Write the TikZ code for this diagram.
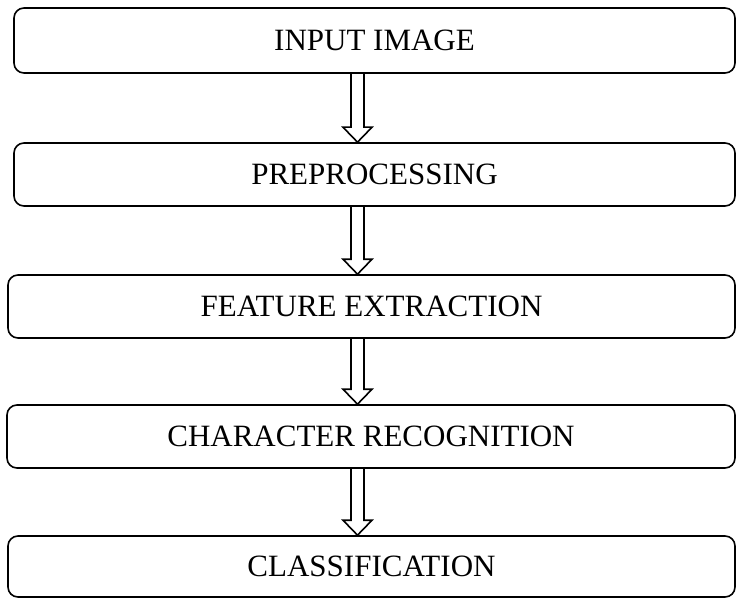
\documentclass[tikz,border=0pt]{standalone}
\usepackage{fontspec}
\setmainfont{Liberation Serif}
\usetikzlibrary{calc}

\begin{document}
\begin{tikzpicture}[
  x=1pt, y=-1pt,
  stage/.style={draw, line width=1.6pt, rounded corners=10pt, inner sep=0pt, font=\fontsize{31}{36}\selectfont},
  hollowarrow/.style={draw, line width=1.6pt, line join=miter}
]
\useasboundingbox (0,0) rectangle (736,599);

\node[stage, minimum width=721pt, minimum height=65pt] (input) at (374.5,40.5) {INPUT IMAGE};
\node[stage, minimum width=721pt, minimum height=63pt] (prep) at (374.5,174.5) {PREPROCESSING};
\node[stage, minimum width=727pt, minimum height=63pt] (feat) at (371.5,306.5) {FEATURE EXTRACTION};
\node[stage, minimum width=728pt, minimum height=63pt] (charrec) at (371,436.5) {CHARACTER RECOGNITION};
\node[stage, minimum width=727pt, minimum height=61pt] (classif) at (371.5,566.5) {CLASSIFICATION};

% hollow block arrows between stages
\foreach \a/\b in {input/prep, prep/feat, feat/charrec, charrec/classif}
  \draw[hollowarrow] let \p1=(\a.south), \p2=(\b.north) in
    (351pt,\y1) -- (351pt,\y2+15pt) -- (343pt,\y2+15pt) -- (357.5pt,\y2)
    -- (372pt,\y2+15pt) -- (364pt,\y2+15pt) -- (364pt,\y1);
\end{tikzpicture}
\end{document}
